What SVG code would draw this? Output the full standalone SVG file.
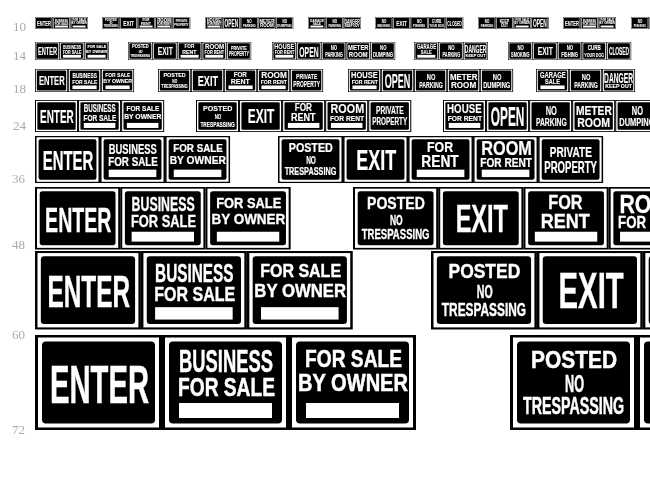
<svg xmlns="http://www.w3.org/2000/svg" xmlns:xlink="http://www.w3.org/1999/xlink" width="650" height="483" viewBox="0 0 650 483">
<style>
.t{font-family:"Liberation Sans Narrow","Liberation Sans",sans-serif;font-weight:700;fill:#fff;stroke:#fff;stroke-width:.5}
.l{font-family:"Liberation Serif",serif;font-size:13px;fill:#aaa}
.k{fill:#000}.w{fill:#fff}
.r{filter:url(#gray)}
</style>
<defs>
<filter id="gray" filterUnits="userSpaceOnUse" x="0" y="0" width="650" height="483" color-interpolation-filters="sRGB"><feOffset dx="0" dy="0"/></filter>
<g id="base"><rect class="k" width="127" height="95"/><rect class="w" x="3" y="2.5" width="121" height="90"/><rect class="k" x="7" y="6.5" width="113" height="82" rx="4"/></g>
<rect id="bar" class="w" x="17" y="68" width="93" height="15"/>
<g id="enter"><use href="#base"/><text class="t" x="15" y="68" font-size="54" textLength="99" lengthAdjust="spacingAndGlyphs">ENTER</text></g>
<g id="business"><use href="#base"/><text class="t" x="17" y="37" font-size="31" textLength="94" lengthAdjust="spacingAndGlyphs">BUSINESS</text><text class="t" x="16" y="61" font-size="25" textLength="97" lengthAdjust="spacingAndGlyphs">FOR SALE</text><use href="#bar"/></g>
<g id="owner"><use href="#base"/><text class="t" x="16" y="32" font-size="23" textLength="97" lengthAdjust="spacingAndGlyphs">FOR SALE</text><text class="t" x="9" y="56" font-size="23" textLength="110" lengthAdjust="spacingAndGlyphs">BY OWNER</text><use href="#bar"/></g>
<g id="posted"><use href="#base"/><text class="t" x="21" y="33" font-size="24" textLength="86" lengthAdjust="spacingAndGlyphs">POSTED</text><text class="t" x="55" y="57" font-size="23" textLength="19" lengthAdjust="spacingAndGlyphs">NO</text><text class="t" x="13" y="79" font-size="23" textLength="101" lengthAdjust="spacingAndGlyphs">TRESPASSING</text></g>
<g id="exit"><use href="#base"/><text class="t" x="26" y="69" font-size="60" textLength="78" lengthAdjust="spacingAndGlyphs">EXIT</text></g>
<g id="rent"><use href="#base"/><text class="t" x="37" y="33" font-size="30" textLength="51" lengthAdjust="spacingAndGlyphs">FOR</text><text class="t" x="26" y="63" font-size="32" textLength="73" lengthAdjust="spacingAndGlyphs">RENT</text><use href="#bar"/></g>
<g id="room"><use href="#base"/><text class="t" x="16" y="39" font-size="40" textLength="99" lengthAdjust="spacingAndGlyphs">ROOM</text><text class="t" x="14" y="62" font-size="24" textLength="101" lengthAdjust="spacingAndGlyphs">FOR RENT</text><use href="#bar"/></g>
<g id="private"><use href="#base"/><text class="t" x="23" y="43" font-size="31" textLength="82" lengthAdjust="spacingAndGlyphs">PRIVATE</text><text class="t" x="12" y="74" font-size="34" textLength="103" lengthAdjust="spacingAndGlyphs">PROPERTY</text></g>
<g id="house"><use href="#base"/><text class="t" x="12" y="39" font-size="40" textLength="102" lengthAdjust="spacingAndGlyphs">HOUSE</text><text class="t" x="14" y="62" font-size="24" textLength="101" lengthAdjust="spacingAndGlyphs">FOR RENT</text><use href="#bar"/></g>
<g id="open"><use href="#base"/><text class="t" x="14" y="78" font-size="80" textLength="99" lengthAdjust="spacingAndGlyphs">OPEN</text></g>
<g id="parking"><use href="#base"/><text class="t" x="49" y="44" font-size="37" textLength="33" lengthAdjust="spacingAndGlyphs">NO</text><text class="t" x="20" y="77" font-size="34" textLength="91" lengthAdjust="spacingAndGlyphs">PARKING</text></g>
<g id="meter"><use href="#base"/><text class="t" x="11" y="44" font-size="37" textLength="106" lengthAdjust="spacingAndGlyphs">METER</text><text class="t" x="15" y="80" font-size="40" textLength="97" lengthAdjust="spacingAndGlyphs">ROOM</text></g>
<g id="dumping"><use href="#base"/><text class="t" x="49" y="44" font-size="37" textLength="33" lengthAdjust="spacingAndGlyphs">NO</text><text class="t" x="12" y="77" font-size="34" textLength="104" lengthAdjust="spacingAndGlyphs">DUMPING</text></g>
<g id="garage"><use href="#base"/><text class="t" x="15" y="38" font-size="34" textLength="99" lengthAdjust="spacingAndGlyphs">GARAGE</text><text class="t" x="35" y="62" font-size="31" textLength="57" lengthAdjust="spacingAndGlyphs">SALE</text><use href="#bar"/></g>
<g id="danger"><use href="#base"/><text class="t" x="8" y="58" font-size="61" textLength="111" lengthAdjust="spacingAndGlyphs">DANGER</text><text class="t" x="12" y="77" font-size="21" textLength="103" lengthAdjust="spacingAndGlyphs">KEEP OUT</text></g>
<g id="smoking"><use href="#base"/><text class="t" x="49" y="44" font-size="37" textLength="33" lengthAdjust="spacingAndGlyphs">NO</text><text class="t" x="16" y="77" font-size="34" textLength="95" lengthAdjust="spacingAndGlyphs">SMOKING</text></g>
<g id="fishing"><use href="#base"/><text class="t" x="49" y="44" font-size="37" textLength="33" lengthAdjust="spacingAndGlyphs">NO</text><text class="t" x="20" y="77" font-size="34" textLength="87" lengthAdjust="spacingAndGlyphs">FISHING</text></g>
<g id="curb"><use href="#base"/><text class="t" x="30" y="44" font-size="37" textLength="67" lengthAdjust="spacingAndGlyphs">CURB</text><text class="t" x="12" y="77" font-size="31" textLength="103" lengthAdjust="spacingAndGlyphs">YOUR DOG</text></g>
<g id="closed"><use href="#base"/><text class="t" x="12" y="69" font-size="61" textLength="104" lengthAdjust="spacingAndGlyphs">CLOSED</text></g>
<g id="keep"><use href="#base"/><text class="t" x="30" y="44" font-size="37" textLength="67" lengthAdjust="spacingAndGlyphs">KEEP</text><text class="t" x="38" y="77" font-size="37" textLength="51" lengthAdjust="spacingAndGlyphs">OUT</text></g>
</defs>
<g id="labels" class="r">
<text class="l" x="13" y="31">10</text><text class="l" x="13" y="60">14</text><text class="l" x="13" y="93">18</text><text class="l" x="13" y="130">24</text><text class="l" x="12" y="183">36</text><text class="l" x="12" y="249">48</text><text class="l" x="12" y="339">60</text><text class="l" x="12" y="434">72</text>
</g>
<g id="row10" class="r">
<g transform="translate(35,17) scale(.139,.126)"><use href="#enter"/><use href="#business" x="127"/><use href="#owner" x="254"/></g>
<g transform="translate(102,17) scale(.139,.126)"><use href="#posted"/><use href="#exit" x="127"/><use href="#rent" x="254"/><use href="#room" x="381"/><use href="#private" x="508"/></g>
<g transform="translate(205,17) scale(.139,.126)"><use href="#house"/><use href="#open" x="127"/><use href="#parking" x="254"/><use href="#meter" x="381"/><use href="#dumping" x="508"/></g>
<g transform="translate(308,17) scale(.139,.126)"><use href="#garage"/><use href="#parking" x="127"/><use href="#danger" x="254"/></g>
<g transform="translate(375,17) scale(.139,.126)"><use href="#smoking"/><use href="#exit" x="127"/><use href="#fishing" x="254"/><use href="#curb" x="381"/><use href="#closed" x="508"/></g>
<g transform="translate(478,17) scale(.139,.126)"><use href="#parking"/><use href="#keep" x="127"/><use href="#owner" x="254"/><use href="#open" x="381"/></g>
<g transform="translate(563,17) scale(.139,.126)"><use href="#enter"/><use href="#business" x="127"/><use href="#owner" x="254"/></g>
<g transform="translate(631,17) scale(.139,.126)"><use href="#fishing"/><use href="#parking" x="127"/></g>
</g>
<g id="row14" class="r">
<g transform="translate(35,42) scale(.194,.189)"><use href="#enter"/><use href="#business" x="127"/><use href="#owner" x="254"/></g>
<g transform="translate(128,42) scale(.194,.189)"><use href="#posted"/><use href="#exit" x="127"/><use href="#rent" x="254"/><use href="#room" x="381"/><use href="#private" x="508"/></g>
<g transform="translate(272,42) scale(.194,.189)"><use href="#house"/><use href="#open" x="127"/><use href="#parking" x="254"/><use href="#meter" x="381"/><use href="#dumping" x="508"/></g>
<g transform="translate(414,42) scale(.194,.189)"><use href="#garage"/><use href="#parking" x="127"/><use href="#danger" x="254"/></g>
<g transform="translate(508,42) scale(.194,.189)"><use href="#smoking"/><use href="#exit" x="127"/><use href="#fishing" x="254"/><use href="#curb" x="381"/><use href="#closed" x="508"/></g>
</g>
<g id="row18" class="r">
<g transform="translate(35,69) scale(.26,.242)"><use href="#enter"/><use href="#business" x="127"/><use href="#owner" x="254"/></g>
<g transform="translate(158,69) scale(.26,.242)"><use href="#posted"/><use href="#exit" x="127"/><use href="#rent" x="254"/><use href="#room" x="381"/><use href="#private" x="508"/></g>
<g transform="translate(348,69) scale(.26,.242)"><use href="#house"/><use href="#open" x="127"/><use href="#parking" x="254"/><use href="#meter" x="381"/><use href="#dumping" x="508"/></g>
<g transform="translate(536,69) scale(.26,.242)"><use href="#garage"/><use href="#parking" x="127"/><use href="#danger" x="254"/></g>
</g>
<g id="row24" class="r">
<g transform="translate(35,100) scale(.339,.337)"><use href="#enter"/><use href="#business" x="127"/><use href="#owner" x="254"/></g>
<g transform="translate(196,100) scale(.339,.337)"><use href="#posted"/><use href="#exit" x="127"/><use href="#rent" x="254"/><use href="#room" x="381"/><use href="#private" x="508"/></g>
<g transform="translate(443,100) scale(.339,.337)"><use href="#house"/><use href="#open" x="127"/><use href="#parking" x="254"/><use href="#meter" x="381"/><use href="#dumping" x="508"/></g>
</g>
<g id="row36" class="r">
<g transform="translate(35,136) scale(.512,.495)"><use href="#enter"/><use href="#business" x="127"/><use href="#owner" x="254"/></g>
<g transform="translate(278,136) scale(.512,.495)"><use href="#posted"/><use href="#exit" x="127"/><use href="#rent" x="254"/><use href="#room" x="381"/><use href="#private" x="508"/></g>
</g>
<g id="row48" class="r">
<g transform="translate(35,187) scale(.671,.658)"><use href="#enter"/><use href="#business" x="127"/><use href="#owner" x="254"/></g>
<g transform="translate(353,187) scale(.671,.658)"><use href="#posted"/><use href="#exit" x="127"/><use href="#rent" x="254"/><use href="#room" x="381"/></g>
</g>
<g id="row60" class="r">
<g transform="translate(35,251) scale(.834,.826)"><use href="#enter"/><use href="#business" x="127"/><use href="#owner" x="254"/></g>
<g transform="translate(431,251) scale(.834,.826)"><use href="#posted"/><use href="#exit" x="127"/><use href="#rent" x="254"/></g>
</g>
<g id="row72" class="r">
<g transform="translate(35,335)"><use href="#enter"/><use href="#business" x="127"/><use href="#owner" x="254"/></g>
<g transform="translate(510,335)"><use href="#posted"/><use href="#exit" x="127"/></g>
</g>
</svg>
